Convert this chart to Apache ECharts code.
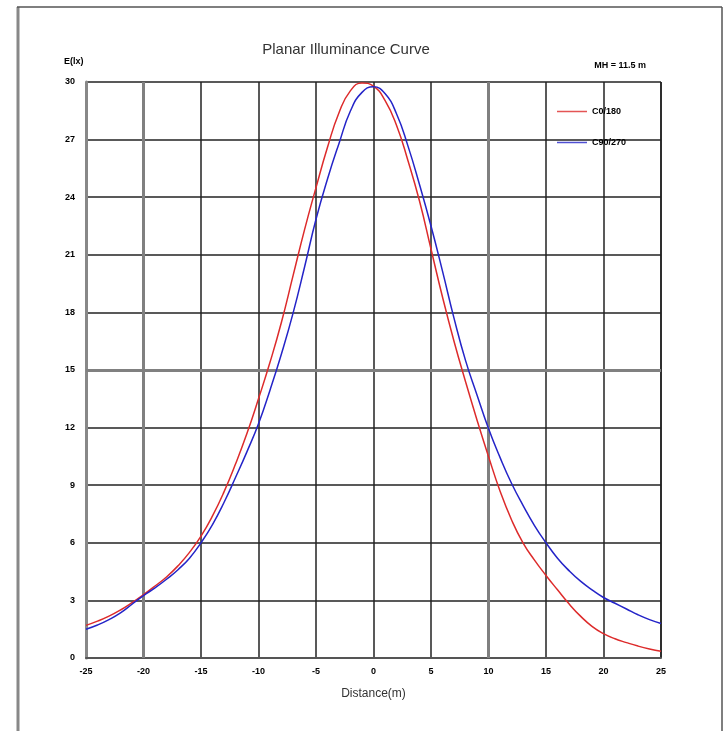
<!DOCTYPE html>
<html>
<head>
<meta charset="utf-8">
<script src="https://cdn.jsdelivr.net/npm/echarts@6/dist/echarts.min.js"></script>
<style>html,body{margin:0;padding:0;background:#fff;}#c{width:724px;height:731px;}</style>
</head>
<body>
<div id="c"></div>
<script>
var distances = [-25,-24,-23,-22,-21,-20,-19,-18,-17,-16,-15,-14,-13,-12,-11,-10,-9,-8,-7,-6,-5,-4,-3,-2,-1,0,1,2,3,4,5,6,7,8,9,10,11,12,13,14,15,16,17,18,19,20,21,22,23,24,25];
var c0_180 =    [1.7,1.92,2.18,2.5,2.88,3.3,3.75,4.22,4.8,5.5,6.35,7.4,8.65,10.1,11.7,13.5,15.4,17.5,19.9,22.3,24.5,26.6,28.4,29.55,29.95,29.78,29.04,27.75,25.9,23.8,21.3,18.8,16.5,14.4,12.4,10.5,8.7,7.2,6.0,5.1,4.3,3.55,2.82,2.18,1.65,1.27,1.0,0.8,0.62,0.47,0.35];
var c90_270 =   [1.5,1.72,2.0,2.35,2.8,3.25,3.65,4.1,4.6,5.2,6.0,6.95,8.1,9.4,10.75,12.2,13.95,15.85,17.95,20.35,22.85,24.95,26.8,28.5,29.46,29.75,29.4,28.35,26.66,24.66,22.5,20.15,17.7,15.5,13.7,11.95,10.45,9.1,7.95,6.9,6.0,5.2,4.55,4.0,3.55,3.15,2.85,2.55,2.25,2.0,1.8];
var xTicks = [-25,-20,-15,-10,-5,0,5,10,15,20,25];
var yTicks = [0,3,6,9,12,15,18,21,24,27,30];
var seriesNames = ['C0/180','C90/270'];
var titleText = 'Planar Illuminance Curve';
var yName = 'E(lx)';
var xName = 'Distance(m)';
var mhText = 'MH = 11.5 m';
var heavyXLines = [-20, 10];
var heavyYLines = [15];

function pairs(xs, ys){ return xs.map(function(x,i){ return [x, ys[i]]; }); }

var chart = echarts.init(document.getElementById('c'));
var lbl = {fontFamily:'Liberation Sans, Arial', fontWeight:'bold', fontSize:9, color:'#000'};
var heavy = heavyXLines.map(function(v){ return {xAxis:v}; }).concat(heavyYLines.map(function(v){ return {yAxis:v}; }));
chart.setOption({
  backgroundColor:'#fff',
  animation:false,
  title:{text:titleText, left:341, top:37, textAlign:'center',
    textStyle:{fontFamily:'Liberation Sans, Arial', fontWeight:'normal', fontSize:15, color:'#333'}},
  legend:{orient:'vertical', left:552, top:102, itemWidth:30, itemHeight:1.5, icon:'rect', itemGap:22,
    itemStyle:{opacity:0.8},
    data:seriesNames, textStyle:lbl},
  grid:{left:86, right:63, top:82, bottom:73},
  xAxis:{type:'value', min:xTicks[0], max:xTicks[xTicks.length-1], interval:5,
    name:xName, nameLocation:'middle', nameGap:30,
    nameTextStyle:{fontFamily:'Liberation Sans, Arial', fontSize:12, color:'#333'},
    axisLine:{show:true, onZero:false, lineStyle:{color:'#555', width:2}},
    axisTick:{show:false},
    axisLabel:Object.assign({margin:9}, lbl),
    splitLine:{show:true, lineStyle:{color:'#222', width:1.5}}},
  yAxis:{type:'value', min:yTicks[0], max:yTicks[yTicks.length-1], interval:3,
    axisLine:{show:true, onZero:false, lineStyle:{color:'#888', width:3}},
    axisTick:{show:false},
    axisLabel:Object.assign({margin:11}, lbl),
    splitLine:{show:true, lineStyle:{color:'#222', width:1.5}}},
  graphic:[
    {type:'line', shape:{x1:18, y1:731, x2:18, y2:7}, style:{stroke:'#888', lineWidth:3}},
    {type:'line', shape:{x1:17, y1:7, x2:722, y2:7}, style:{stroke:'#555', lineWidth:1.5}},
    {type:'line', shape:{x1:722, y1:7, x2:722, y2:731}, style:{stroke:'#555', lineWidth:1.5}},
    {type:'line', shape:{x1:661, y1:82, x2:661, y2:658}, style:{stroke:'#555', lineWidth:2}},
    {type:'text', left:64, top:57, style:{text:yName, font:'bold 9px Liberation Sans, Arial', fill:'#000'}},
    {type:'text', right:78, top:61, style:{text:mhText, font:'bold 9px Liberation Sans, Arial', fill:'#000'}}
  ],
  series:[
    {name:seriesNames[0], type:'line', smooth:true, symbol:'none', data:pairs(distances, c0_180),
      lineStyle:{color:'#dd2b2b', width:1.5}, itemStyle:{color:'#dd2b2b'}, z:3,
      markLine:{silent:true, symbol:'none', label:{show:false}, lineStyle:{color:'#808080', width:3, type:'solid'}, data:heavy, z:1}},
    {name:seriesNames[1], type:'line', smooth:true, symbol:'none', data:pairs(distances, c90_270),
      lineStyle:{color:'#2424c8', width:1.5}, itemStyle:{color:'#2424c8'}, z:4}
  ]
});
</script>
</body>
</html>
